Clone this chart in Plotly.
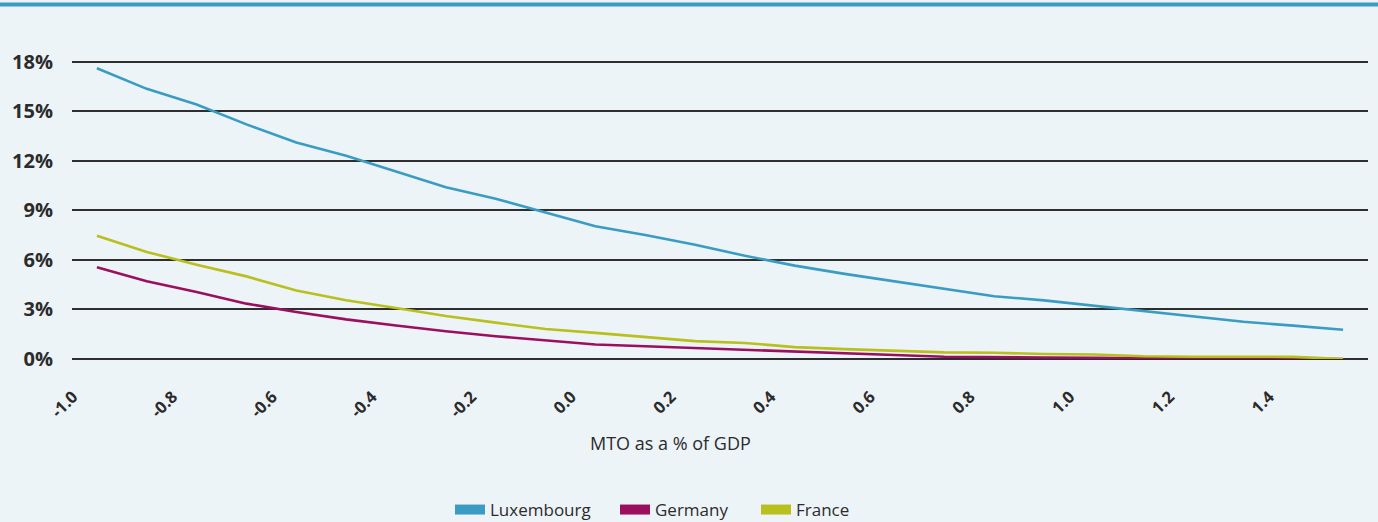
import plotly.graph_objects as go

# ---- data ----
mto = [-1.0, -0.9, -0.8, -0.7, -0.6, -0.5, -0.4, -0.3, -0.2, -0.1,
       0.0, 0.1, 0.2, 0.3, 0.4, 0.5, 0.6, 0.7, 0.8, 0.9,
       1.0, 1.1, 1.2, 1.3, 1.4, 1.5]

luxembourg = [17.6, 16.35, 15.4, 14.2, 13.1, 12.3, 11.35, 10.4, 9.7, 8.87,
              8.03, 7.5, 6.92, 6.25, 5.65, 5.15, 4.7, 4.24, 3.8, 3.55,
              3.23, 2.89, 2.6, 2.25, 2.02, 1.77]
germany = [5.55, 4.7, 4.05, 3.35, 2.85, 2.4, 2.03, 1.68, 1.38, 1.12,
           0.88, 0.77, 0.66, 0.54, 0.43, 0.31, 0.24, 0.14, 0.1, 0.09,
           0.08, 0.03, 0.02, 0.02, 0.02, 0.0]
france = [7.46, 6.48, 5.71, 5.0, 4.14, 3.55, 3.09, 2.6, 2.2, 1.82,
          1.58, 1.34, 1.08, 0.97, 0.72, 0.6, 0.48, 0.4, 0.38, 0.3,
          0.27, 0.17, 0.14, 0.13, 0.13, 0.0]

series_names = ["Luxembourg", "Germany", "France"]
series_values = [luxembourg, germany, france]
series_colors = ["#3a9cc3", "#9b0f5e", "#b9bf1c"]

x_tick_vals = [-1.0, -0.8, -0.6, -0.4, -0.2, 0.0, 0.2, 0.4, 0.6, 0.8, 1.0, 1.2, 1.4]
x_tick_text = ["-1.0", "-0.8", "-0.6", "-0.4", "-0.2", "0.0", "0.2", "0.4",
               "0.6", "0.8", "1.0", "1.2", "1.4"]
y_tick_vals = [0, 3, 6, 9, 12, 15, 18]
y_tick_text = ["0%", "3%", "6%", "9%", "12%", "15%", "18%"]

x_title = "MTO as a % of GDP"

# ---- layout geometry ----
W, H = 1378, 522
L, R, T, B = 72, 10, 12, 163
BG = "#edf4f8"
TEXT = "#2b2b2b"
FONT = "Open Sans"
legend_left_px = [450, 615, 756]   # left edge of each legend entry

fig = go.Figure()

for name, vals, col in zip(series_names, series_values, series_colors):
    fig.add_trace(go.Scatter(
        x=mto, y=vals, mode="lines", name=name,
        line=dict(color=col, width=2.6), showlegend=False,
        hoverinfo="x+y+name",
    ))

legend_ids = ["legend", "legend2", "legend3"]
# legend entries (thick swatches as in the reference)
for name, col, lid in zip(series_names, series_colors, legend_ids):
    fig.add_trace(go.Scatter(
        x=[None], y=[None], mode="lines", name=name,
        line=dict(color=col, width=10), showlegend=True, legend=lid,
    ))

pw = W - L - R
ph = H - T - B

legend_common = dict(
    orientation="h",
    xref="container", yref="container",
    xanchor="left",
    y=(H - 510) / H, yanchor="middle",
    font=dict(family=FONT, size=17, color=TEXT),
    bgcolor="rgba(0,0,0,0)",
    itemwidth=30,
)

fig.update_layout(
    width=W, height=H,
    margin=dict(l=L, r=R, t=T, b=B, autoexpand=False),
    paper_bgcolor=BG, plot_bgcolor=BG,
    font=dict(family=FONT, color=TEXT),
    xaxis=dict(
        range=[-1.05, 1.55],
        tickmode="array", tickvals=x_tick_vals, ticktext=x_tick_text,
        tickangle=-45,
        tickfont=dict(family=FONT, size=16.5, color=TEXT, weight="bold"),
        showgrid=False, zeroline=False, showline=False,
        ticks="", ticklabelstandoff=24, ticklabelshift=-24,
        automargin=False,
    ),
    yaxis=dict(
        range=[0, 21],
        tickmode="array", tickvals=y_tick_vals, ticktext=y_tick_text,
        tickfont=dict(family=FONT, size=20, color=TEXT, weight="bold"),
        showgrid=True, gridcolor="#2e2e2e", gridwidth=1.8,
        zeroline=True, zerolinecolor="#2e2e2e", zerolinewidth=2,
        showline=False, ticks="", ticklabelstandoff=18,
        automargin=False,
    ),
    legend=dict(legend_common, x=legend_left_px[0] / W),
    legend2=dict(legend_common, x=legend_left_px[1] / W),
    legend3=dict(legend_common, x=legend_left_px[2] / W),
    annotations=[dict(
        text=x_title, xref="paper", yref="paper",
        x=(670 - L) / pw, y=-(443 - (T + ph)) / ph,
        xanchor="center", yanchor="middle", showarrow=False,
        font=dict(family=FONT, size=18, color=TEXT),
    )],
    shapes=[dict(
        type="line", xref="paper", yref="paper",
        x0=-L / pw, x1=(W - L) / pw,
        y0=1 + (T - 4.5) / ph, y1=1 + (T - 4.5) / ph,
        line=dict(color="#3a9cc3", width=4),
    )],
)

fig.write_html("out.html")
